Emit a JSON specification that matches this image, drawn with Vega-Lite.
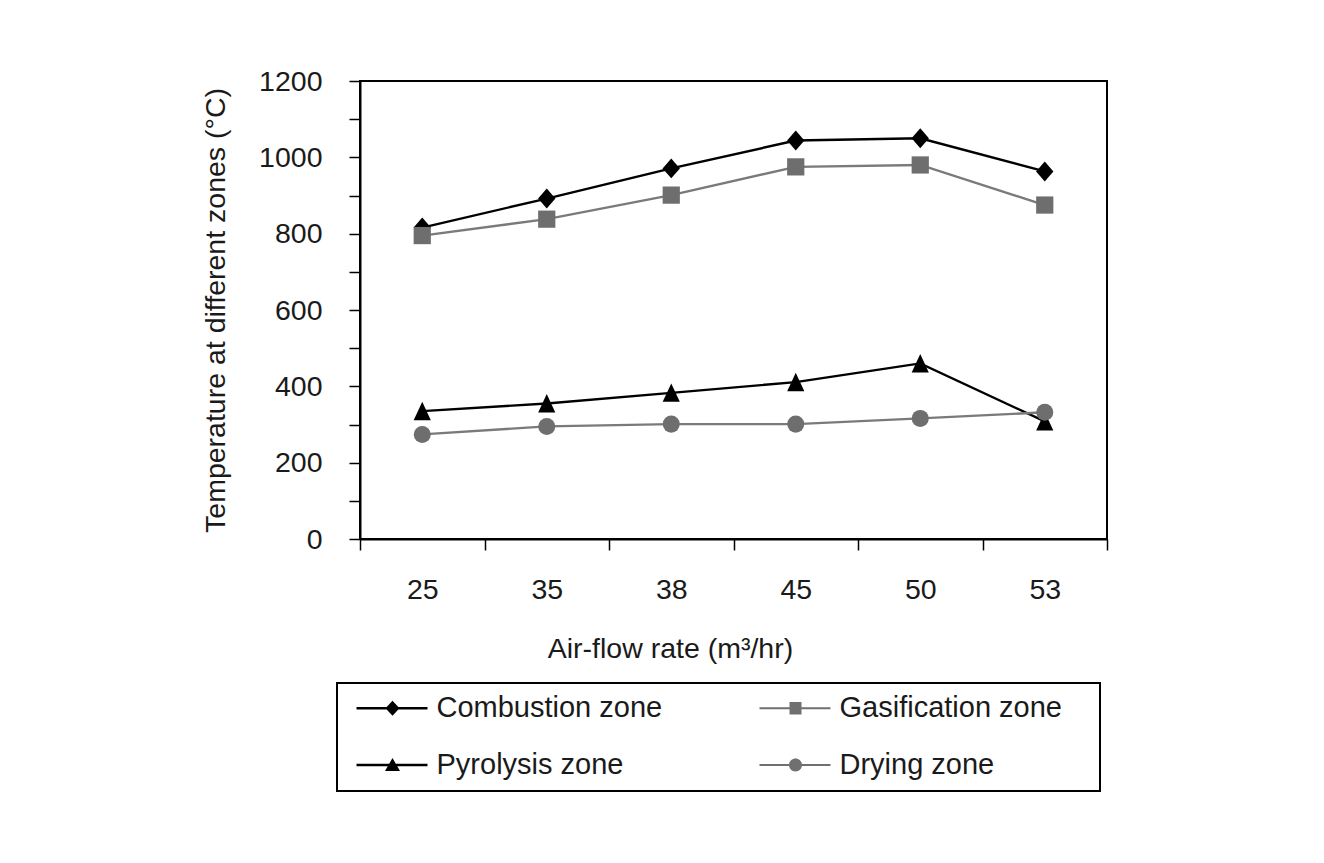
{
  "$schema": "https://vega.github.io/schema/vega-lite/v6.json",
  "autosize": "none",
  "width": 747,
  "height": 458,
  "padding": {"left": 360, "top": 81, "right": 217, "bottom": 324},
  "background": "#ffffff",
  "config": {
    "font": "Liberation Sans, Arial, sans-serif",
    "view": {"stroke": "#000000", "strokeWidth": 2},
    "legend": {"strokeWidth": 2},
    "axis": {
      "domainColor": "#000000", "domainWidth": 2,
      "tickColor": "#000000", "tickWidth": 1.5, "tickSize": 11,
      "labelFont": "Liberation Sans, Arial, sans-serif",
      "labelFontSize": 28.5, "labelColor": "#1a1a1a",
      "titleFont": "Liberation Sans, Arial, sans-serif",
      "titleFontSize": 28.5, "titleFontWeight": "normal", "titleColor": "#1a1a1a",
      "grid": false
    }
  },
  "data": {
    "values": [
      {"rate": "25", "zone": "Combustion zone", "temp": 816},
      {"rate": "35", "zone": "Combustion zone", "temp": 892},
      {"rate": "38", "zone": "Combustion zone", "temp": 971},
      {"rate": "45", "zone": "Combustion zone", "temp": 1044},
      {"rate": "50", "zone": "Combustion zone", "temp": 1050},
      {"rate": "53", "zone": "Combustion zone", "temp": 963},
      {"rate": "25", "zone": "Gasification zone", "temp": 795},
      {"rate": "35", "zone": "Gasification zone", "temp": 838},
      {"rate": "38", "zone": "Gasification zone", "temp": 901},
      {"rate": "45", "zone": "Gasification zone", "temp": 975},
      {"rate": "50", "zone": "Gasification zone", "temp": 980},
      {"rate": "53", "zone": "Gasification zone", "temp": 875},
      {"rate": "25", "zone": "Pyrolysis zone", "temp": 335},
      {"rate": "35", "zone": "Pyrolysis zone", "temp": 355},
      {"rate": "38", "zone": "Pyrolysis zone", "temp": 383},
      {"rate": "45", "zone": "Pyrolysis zone", "temp": 411},
      {"rate": "50", "zone": "Pyrolysis zone", "temp": 460},
      {"rate": "53", "zone": "Pyrolysis zone", "temp": 308},
      {"rate": "25", "zone": "Drying zone", "temp": 274},
      {"rate": "35", "zone": "Drying zone", "temp": 295},
      {"rate": "38", "zone": "Drying zone", "temp": 301},
      {"rate": "45", "zone": "Drying zone", "temp": 301},
      {"rate": "50", "zone": "Drying zone", "temp": 316},
      {"rate": "53", "zone": "Drying zone", "temp": 332}
    ]
  },
  "encoding": {
    "x": {
      "field": "rate", "type": "ordinal", "sort": null,
      "scale": {"type": "band", "paddingInner": 0, "paddingOuter": 0},
      "axis": {"title": "Air-flow rate (m³/hr)", "labelAngle": 0, "tickBand": "extent", "labelPadding": 25, "titlePadding": 31, "titleX": 310}
    },
    "y": {
      "field": "temp", "type": "quantitative",
      "scale": {"domain": [0, 1200], "nice": false},
      "axis": {
        "title": "Temperature at different zones (°C)",
        "values": [0, 100, 200, 300, 400, 500, 600, 700, 800, 900, 1000, 1100, 1200],
        "labelExpr": "datum.value % 200 === 0 ? datum.label : ''",
        "format": "d",
        "labelPadding": 27, "titlePadding": 28
      }
    }
  },
  "layer": [
    {
      "mark": {"type": "line", "strokeWidth": 2.4},
      "encoding": {
        "color": {
          "field": "zone", "type": "nominal", "legend": null,
          "scale": {"domain": ["Combustion zone", "Gasification zone", "Pyrolysis zone", "Drying zone"], "range": ["#000000", "#7a7a7a", "#000000", "#7a7a7a"]}
        }
      }
    },
    {
      "mark": {"type": "point", "filled": true, "opacity": 1},
      "encoding": {
        "color": {
          "field": "zone", "type": "nominal", "legend": null,
          "scale": {"domain": ["Combustion zone", "Gasification zone", "Pyrolysis zone", "Drying zone"], "range": ["#000000", "#6e6e6e", "#000000", "#6e6e6e"]}
        },
        "shape": {
          "field": "zone", "type": "nominal", "legend": null,
          "scale": {"domain": ["Combustion zone", "Gasification zone", "Pyrolysis zone", "Drying zone"], "range": ["M0,-1.15L1,0L0,1.15L-1,0Z", "square", "M0,-1.1L1,1.05H-1Z", "circle"]}
        },
        "size": {
          "field": "zone", "type": "nominal", "legend": null,
          "scale": {"domain": ["Combustion zone", "Gasification zone", "Pyrolysis zone", "Drying zone"], "range": [300, 290, 361, 289]}
        }
      }
    },
    {
      "mark": {"type": "point", "filled": true, "opacity": 0},
      "encoding": {
        "color": {
          "field": "zone", "type": "nominal",
          "scale": {"domain": ["Combustion zone", "Gasification zone", "Pyrolysis zone", "Drying zone"], "range": ["#000000", "#707070", "#000000", "#707070"]},
          "legend": {
            "title": "\u00a0", "titleOrient": "right", "titlePadding": 28, "titleFontSize": 29,
            "orient": "none", "legendX": -23, "legendY": 602,
            "direction": "horizontal", "columns": 2, "columnPadding": 88, "rowPadding": 27,
            "padding": 10.5, "strokeColor": "#000000",
            "symbolSize": 400, "symbolOpacity": 1,
            "labelFont": "Liberation Sans, Arial, sans-serif",
            "labelFontSize": 29, "labelColor": "#1a1a1a", "labelLimit": 500, "labelOffset": 60
          }
        },
        "shape": {
          "field": "zone", "type": "nominal",
          "scale": {"domain": ["Combustion zone", "Gasification zone", "Pyrolysis zone", "Drying zone"], "range": [
            "M-0.55,-0.12H6.55V0.12H-0.55ZM3.05,-0.75L3.75,0L3.05,0.75L2.35,0Z",
            "M-0.55,-0.1H6.55V0.1H-0.55ZM2.45,-0.62H3.65V0.62H2.45Z",
            "M-0.55,-0.12H6.55V0.12H-0.55ZM3.05,-0.7L3.8,0.6H2.3Z",
            "M-0.55,-0.1H6.55V0.1H-0.55ZM3.7,0A0.65,0.65,0,1,1,2.4,0A0.65,0.65,0,1,1,3.7,0Z"
          ]},
          "legend": {
            "title": "\u00a0", "titleOrient": "right", "titlePadding": 28, "titleFontSize": 29,
            "orient": "none", "legendX": -23, "legendY": 602,
            "direction": "horizontal", "columns": 2, "columnPadding": 88, "rowPadding": 27,
            "padding": 10.5, "strokeColor": "#000000",
            "symbolSize": 400, "symbolOpacity": 1,
            "labelFont": "Liberation Sans, Arial, sans-serif",
            "labelFontSize": 29, "labelColor": "#1a1a1a", "labelLimit": 500, "labelOffset": 60
          }
        }
      }
    }
  ],
  "resolve": {"scale": {"color": "independent", "shape": "independent"}}
}
